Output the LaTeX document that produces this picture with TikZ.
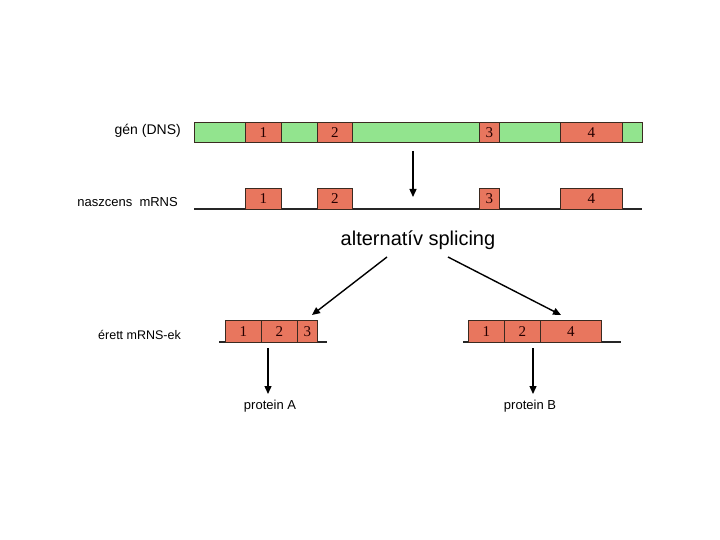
\documentclass[tikz,border=0pt]{standalone}
\usepackage{fontspec}
\setmainfont{Liberation Sans}
\newfontfamily\numfont{Liberation Serif}
\usetikzlibrary{arrows.meta}
\definecolor{genegreen}{HTML}{92E48E}
\definecolor{exonred}{HTML}{E8765E}
\definecolor{edge}{HTML}{3A2A20}
\tikzset{
  lbl/.style={font=\fontsize{13}{15}\selectfont, inner sep=0pt},
  exon/.style={draw=edge, line width=0.9pt, fill=exonred, inner sep=0pt, anchor=north west,
    font=\numfont\fontsize{15}{17}\selectfont, text=black!85!red},
  genebar/.style={draw=edge, line width=0.9pt, fill=genegreen, inner sep=0pt, anchor=north west},
  baseline/.style={line width=1.1pt, draw=black!85},
  arr/.style={line width=1.4pt, -{Triangle[length=8pt,width=7pt]}}
}
\begin{document}
\begin{tikzpicture}[x=1pt,y=-1pt]
\useasboundingbox (0,0) rectangle (720,540);
% gene
\node[genebar, minimum width=448pt, minimum height=20pt] (gene) at (194,122) {};
\node[exon, minimum width=36pt, minimum height=20pt] (g1) at (245,122) {1};
\node[exon, minimum width=35pt, minimum height=20pt] (g2) at (317,122) {2};
\node[exon, minimum width=20pt, minimum height=20pt] (g3) at (479,122) {3};
\node[exon, minimum width=62pt, minimum height=20pt] (g4) at (560,122) {4};
\node[lbl, anchor=east, font=\fontsize{14}{16}\selectfont] (lgene) at (181,131) {gén (DNS)};
% nascent mRNA
\coordinate (nl) at (194,209);
\coordinate (nr) at (642,209);
\draw[baseline] (nl) -- (nr);
\node[exon, minimum width=36pt, minimum height=21pt] (n1) at (245,188) {1};
\node[exon, minimum width=35pt, minimum height=21pt] (n2) at (317,188) {2};
\node[exon, minimum width=20pt, minimum height=21pt] (n3) at (479,188) {3};
\node[exon, minimum width=62pt, minimum height=21pt] (n4) at (560,188) {4};
\node[lbl, anchor=east] (lnasc) at (178,202) {naszcens\ \ mRNS};
\coordinate (va) at (413,151);
\coordinate (vb) at (413,197);
\draw[arr] (va) -- (vb);
% splicing
\node[inner sep=0pt, font=\fontsize{20}{24}\selectfont] (spl) at (418,240) {alternatív splicing};
\coordinate (sl) at (387,257);
\coordinate (sr) at (448,257);
% mature A
\coordinate (al) at (219,342);
\coordinate (ar) at (327,342);
\draw[baseline] (al) -- (ar);
\node[exon, minimum width=36pt, minimum height=22pt] (a1) at (225,320) {1};
\node[exon, minimum width=36pt, minimum height=22pt] (a2) at (261,320) {2};
\node[exon, minimum width=20pt, minimum height=22pt] (a3) at (297,320) {3};
% mature B
\coordinate (bl) at (463,342);
\coordinate (br) at (621,342);
\draw[baseline] (bl) -- (br);
\node[exon, minimum width=36pt, minimum height=22pt] (b1) at (468,320) {1};
\node[exon, minimum width=36pt, minimum height=22pt] (b2) at (504,320) {2};
\node[exon, minimum width=61pt, minimum height=22pt] (b4) at (540,320) {4};
\node[lbl, anchor=west, font=\fontsize{12.5}{15}\selectfont] (lmat) at (98,335) {érett mRNS-ek};
\coordinate (ta) at (312,315);
\coordinate (tb) at (561,315);
\draw[arr] (sl) -- (ta);
\draw[arr] (sr) -- (tb);
% proteins
\node[lbl] (pa) at (270,406) {protein A};
\node[lbl] (pb) at (530,406) {protein B};
\coordinate (pas) at (268,348);
\coordinate (pae) at (268,394);
\coordinate (pbs) at (533,348);
\coordinate (pbe) at (533,394);
\draw[arr] (pas) -- (pae);
\draw[arr] (pbs) -- (pbe);
\end{tikzpicture}
\end{document}
